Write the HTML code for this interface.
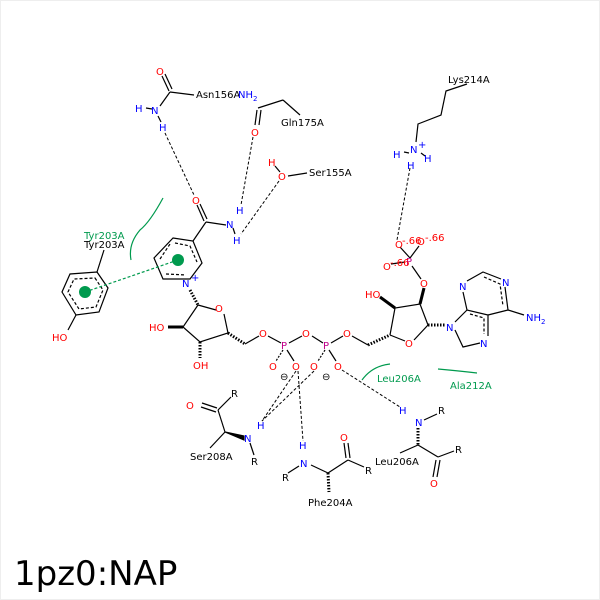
<!DOCTYPE html>
<html><head><meta charset="utf-8"><style>
html,body{margin:0;padding:0;background:#fff;}
svg{display:block;}
text{font-family:"DejaVu Sans","Liberation Sans",sans-serif;font-size:10px;}
.k{fill:#000}.r{fill:#f00}.b{fill:#00f}.g{fill:#009a4e}.p{fill:#c0008a}
</style></head><body>
<svg width="600" height="600" viewBox="0 0 600 600">
<rect x="0" y="0" width="600" height="600" fill="#fff"/>
<rect x="0.5" y="0.5" width="599" height="599" fill="none" stroke="#eee"/>
<g stroke="#000" stroke-width="1.2" fill="none">
<line x1="162" y1="76" x2="169" y2="91"/><line x1="165" y1="74" x2="172" y2="89"/>
<line x1="170" y1="92" x2="194" y2="95"/><line x1="170" y1="92" x2="160" y2="106"/>
<line x1="146" y1="108" x2="152" y2="109"/><line x1="158" y1="116" x2="161" y2="122"/>
<line x1="255" y1="125" x2="257" y2="110"/><line x1="259" y1="125" x2="261" y2="110"/>
<line x1="258" y1="108" x2="283" y2="100"/><line x1="283" y1="100" x2="300" y2="115"/>
<line x1="288" y1="176" x2="307" y2="173"/><line x1="275" y1="166" x2="280" y2="172"/>
<line x1="197" y1="205" x2="204" y2="221"/><line x1="200" y1="204" x2="207" y2="219"/>
<line x1="206" y1="222" x2="226" y2="225"/><line x1="206" y1="222" x2="193" y2="241"/>
<line x1="233" y1="228" x2="235" y2="234"/>
<polygon points="173,238 193,241 202,263 190,279 163,279 154,258"/>
<polyline points="175,243 190,246 197,262" stroke-dasharray="3,2"/>
<polyline points="166,274 186,275" stroke-dasharray="3,2"/>
<polyline points="160,259 170,244" stroke-dasharray="3,2"/>
<polygon points="97,272 108,288 99,312 76,315 62,292 70,274"/>
<polygon points="95,278 103,290 96,307 79,309 68,292 74,279" stroke-dasharray="3,2"/>
<line x1="97" y1="272" x2="104" y2="250"/><line x1="76" y1="315" x2="68" y2="330"/>
<line x1="190" y1="290" x2="198" y2="305" stroke-dasharray="1.5,1.5" stroke-width="3"/>
<polyline points="198,305 216,310"/><polyline points="224,314 228,333 200,342 183,327 198,305"/>
<line x1="183" y1="327" x2="168" y2="327" stroke-width="3"/>
<line x1="200" y1="342" x2="200" y2="358" stroke-dasharray="1.5,1.5" stroke-width="3"/>
<line x1="228" y1="333" x2="245" y2="344" stroke-dasharray="1.5,1.5" stroke-width="3"/>
<line x1="245" y1="344" x2="259" y2="336"/><line x1="268" y1="336" x2="281" y2="343"/>
<line x1="289" y1="343" x2="302" y2="336"/><line x1="312" y1="336" x2="323" y2="343"/>
<line x1="331" y1="343" x2="343" y2="336"/><line x1="352" y1="336" x2="368" y2="345"/>
<line x1="368" y1="345" x2="390" y2="335" stroke-dasharray="1.5,1.5" stroke-width="3"/>
<line x1="283" y1="350" x2="276" y2="361" stroke-dasharray="2,1.5"/><line x1="287" y1="350" x2="294" y2="361"/>
<line x1="325" y1="350" x2="318" y2="361" stroke-dasharray="2,1.5"/><line x1="329" y1="350" x2="336" y2="361"/>
<polyline points="390,335 405,341"/><polyline points="414,340 428,325 420,304 395,308 390,335"/>
<line x1="395" y1="308" x2="380" y2="297" stroke-width="3"/>
<line x1="420" y1="304" x2="424" y2="288" stroke-width="3"/>
<line x1="428" y1="325" x2="446" y2="325" stroke-dasharray="1.5,1.5" stroke-width="3"/>
<line x1="421" y1="279" x2="412" y2="266"/><line x1="410" y1="258" x2="400" y2="247"/>
<line x1="410" y1="258" x2="419" y2="246"/><line x1="405" y1="262" x2="391" y2="264"/>
<polyline points="455,330 463,347 480,343"/><polyline points="488,336 488,315 467,310 455,322"/>
<polyline points="467,310 463,292"/><polyline points="467,281 483,272 501,279"/>
<polyline points="505,287 508,310 488,315"/><line x1="508" y1="310" x2="524" y2="315"/>
<polyline points="470,314 484,318 484,334" stroke-dasharray="3,2"/>
<polyline points="484,277 500,284 503,306" stroke-dasharray="3,2"/>
<polyline points="467,84 446,91 441,115 418,124 416,142"/>
<line x1="404" y1="152" x2="409" y2="153"/><line x1="421" y1="153" x2="425" y2="156"/>
<line x1="202" y1="403" x2="217" y2="408"/><line x1="201" y1="407" x2="216" y2="412"/>
<line x1="218" y1="410" x2="231" y2="397"/><line x1="218" y1="410" x2="225" y2="432"/>
<line x1="225" y1="432" x2="210" y2="448"/>
<polygon points="225,432 244,436 244,440" fill="#000"/>
<line x1="250" y1="443" x2="254" y2="455"/>
<line x1="299" y1="466" x2="288" y2="473"/><line x1="311" y1="465" x2="328" y2="473"/>
<line x1="328" y1="473" x2="348" y2="460"/><line x1="348" y1="460" x2="364" y2="467"/>
<line x1="346" y1="458" x2="344" y2="443"/><line x1="350" y1="458" x2="348" y2="443"/>
<line x1="328" y1="473" x2="329" y2="492" stroke-dasharray="1.5,1.5" stroke-width="3"/>
<line x1="424" y1="420" x2="437" y2="414"/>
<line x1="418" y1="428" x2="418" y2="445" stroke-dasharray="1.5,1.5" stroke-width="3"/>
<line x1="418" y1="445" x2="400" y2="453"/><line x1="418" y1="445" x2="438" y2="457"/>
<line x1="438" y1="457" x2="454" y2="451"/>
<line x1="436" y1="460" x2="433" y2="477"/><line x1="440" y1="460" x2="437" y2="477"/>
</g>
<g stroke="#000" stroke-width="1" fill="none" stroke-dasharray="3,2">
<line x1="165" y1="133" x2="194" y2="195"/>
<line x1="253" y1="137" x2="241" y2="205"/>
<line x1="279" y1="181" x2="241" y2="234"/>
<line x1="410" y1="168" x2="397" y2="240"/>
<line x1="296" y1="371" x2="262" y2="421"/>
<line x1="314" y1="371" x2="262" y2="421"/>
<line x1="298" y1="371" x2="303" y2="441"/>
<line x1="342" y1="370" x2="400" y2="407"/>
</g>
<g stroke="#009a4e" stroke-width="1.2" fill="none">
<path d="M163,198 Q150,222 140,230 Q128,244 131,260"/>
<path d="M362,380 Q372,366 390,364"/>
<path d="M438,369 Q460,371 477,373"/>
<line x1="85" y1="292" x2="178" y2="260" stroke-dasharray="3,2"/>
</g>
<circle cx="85" cy="292" r="6" fill="#009a4e"/><circle cx="178" cy="260" r="6" fill="#009a4e"/>
<text x="156" y="75" class="r">O</text>
<text x="196" y="98" class="k">Asn156A</text><text x="238" y="98" class="b">NH<tspan font-size="7" dy="3">2</tspan></text>
<text x="135" y="112" class="b">H</text><text x="151" y="114" class="b">N</text><text x="159" y="131" class="b">H</text>
<text x="251" y="136" class="r">O</text><text x="281" y="126" class="k">Gln175A</text>
<text x="268" y="166" class="r">H</text><text x="278" y="180" class="r">O</text><text x="309" y="176" class="k">Ser155A</text>
<text x="192" y="204" class="r">O</text><text x="226" y="228" class="b">N</text><text x="236" y="214" class="b">H</text><text x="233" y="244" class="b">H</text>
<text x="84" y="239" class="g">Tyr203A</text><text x="84" y="248" class="k">Tyr203A</text>
<text x="182" y="287" class="b">N</text><text x="191" y="281" class="b" font-size="8">+</text>
<text x="52" y="341" class="r">HO</text>
<text x="215" y="312" class="r">O</text><text x="149" y="331" class="r">HO</text><text x="193" y="369" class="r">OH</text>
<text x="259" y="337" class="r">O</text><text x="281" y="349" class="p">P</text><text x="302" y="337" class="r">O</text>
<text x="323" y="349" class="p">P</text><text x="343" y="337" class="r">O</text>
<text x="269" y="370" class="r">O</text><text x="292" y="370" class="r">O</text><text x="310" y="370" class="r">O</text><text x="334" y="370" class="r">O</text>
<text x="280" y="380" class="k">⊖</text><text x="322" y="380" class="k">⊖</text>
<text x="405" y="347" class="r">O</text><text x="365" y="298" class="r">HO</text><text x="420" y="287" class="r">O</text>
<text x="406" y="265" class="p" font-size="9">P</text>
<text x="395" y="248" class="r">O</text><text x="402" y="244" class="r" font-size="7">-.66</text>
<text x="417" y="245" class="r">O</text><text x="425" y="241" class="r" font-size="7">-.66</text>
<text x="383" y="270" class="r">O</text><text x="390" y="266" class="r" font-size="7">-.66</text>
<text x="446" y="331" class="b">N</text><text x="480" y="347" class="b">N</text><text x="459" y="290" class="b">N</text><text x="502" y="286" class="b">N</text>
<text x="526" y="321" class="b">NH<tspan font-size="7" dy="3">2</tspan></text>
<text x="448" y="83" class="k">Lys214A</text>
<text x="410" y="153" class="b">N</text><text x="418" y="148" class="b" font-size="8">+</text>
<text x="393" y="158" class="b">H</text><text x="424" y="162" class="b">H</text><text x="407" y="169" class="b">H</text>
<text x="186" y="409" class="r">O</text><text x="231" y="397" class="k">R</text>
<text x="244" y="442" class="b">N</text><text x="257" y="429" class="b">H</text><text x="251" y="465" class="k">R</text>
<text x="190" y="460" class="k">Ser208A</text>
<text x="299" y="449" class="b">H</text><text x="300" y="467" class="b">N</text><text x="282" y="481" class="k">R</text>
<text x="340" y="441" class="r">O</text><text x="365" y="474" class="k">R</text><text x="308" y="506" class="k">Phe204A</text>
<text x="399" y="414" class="b">H</text><text x="415" y="426" class="b">N</text><text x="438" y="414" class="k">R</text>
<text x="375" y="465" class="k">Leu206A</text><text x="455" y="453" class="k">R</text><text x="430" y="487" class="r">O</text>
<text x="377" y="382" class="g">Leu206A</text><text x="450" y="389" class="g">Ala212A</text>
<text x="14" y="585" class="k" style="font-size:34px">1pz0:NAP</text>
</svg>
</body></html>
